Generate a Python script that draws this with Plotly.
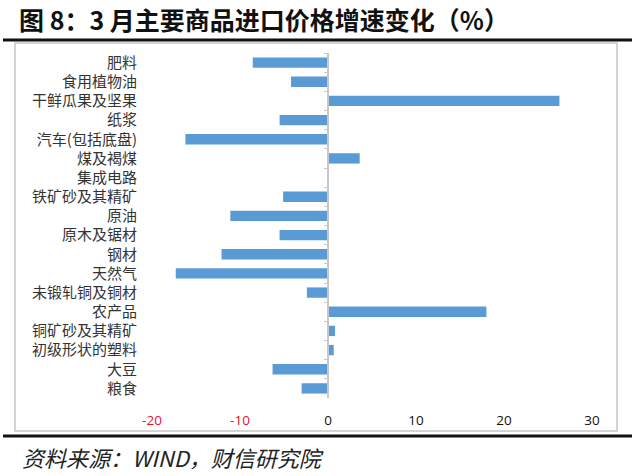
import plotly.graph_objects as go

categories = ["肥料", "食用植物油", "干鲜瓜果及坚果", "纸浆", "汽车(包括底盘)", "煤及褐煤",
              "集成电路", "铁矿砂及其精矿", "原油", "原木及锯材", "钢材", "天然气",
              "未锻轧铜及铜材", "农产品", "铜矿砂及其精矿", "初级形状的塑料", "大豆", "粮食"]
values = [-8.55, -4.2, 26.3, -5.5, -16.2, 3.6,
          0.0, -5.1, -11.1, -5.5, -12.1, -17.3,
          -2.4, 18.0, 0.8, 0.65, -6.3, -3.0]
tick_vals = [-20, -10, 0, 10, 20, 30]
tick_labels = ["-20", "-10", "0", "10", "20", "30"]

W, H = 640, 476
ML, MR, MT, MB = 152, 48, 53, 78
PW, PH = W - ML - MR, H - MT - MB


def px(x):
    return (x - ML) / PW


def py(y):
    return (H - MB - y) / PH


xmin, xmax = tick_vals[0], tick_vals[-1]
n = len(categories)

ticktext = [f"<span style='color:#e8112d'>{t}</span>" if v < 0 else t
            for v, t in zip(tick_vals, tick_labels)]

fig = go.Figure()
fig.add_trace(go.Bar(
    y=categories, x=values, orientation="h",
    marker=dict(color="#5b9bd5", line=dict(width=0)),
    hoverinfo="x+y", showlegend=False,
))
fig.add_trace(go.Scatter(
    y=categories, x=[0] * n, yaxis="y2", mode="markers",
    marker=dict(opacity=0), hoverinfo="skip", showlegend=False,
))

fig.update_layout(
    width=W, height=H,
    margin=dict(l=ML, r=MR, t=MT, b=MB, pad=0),
    paper_bgcolor="white", plot_bgcolor="white",
    bargap=0.46,
    xaxis=dict(range=[xmin, xmax], tickvals=tick_vals, ticktext=ticktext,
               showgrid=False, zeroline=False, showline=False, ticks="",
               ticklabelstandoff=12,
               tickfont=dict(family="Open Sans, sans-serif", size=13.5, color="#111")),
    yaxis=dict(type="category", categoryorder="array", categoryarray=categories,
               range=[n - 0.5, -0.5], showgrid=False, showline=False, ticks="",
               ticklabelstandoff=14,
               tickfont=dict(family="Noto Sans CJK SC", size=15, color="#333")),
    yaxis2=dict(type="category", categoryorder="array", categoryarray=categories,
                range=[n - 0.5, -0.5], overlaying="y", anchor="free",
                position=(0 - xmin) / (xmax - xmin), side="left",
                showgrid=False, showticklabels=False, showline=True,
                linecolor="#c8c8c8", linewidth=2, ticks="outside",
                tickson="boundaries", ticklen=3, tickcolor="#c8c8c8", tickwidth=1),
    shapes=[
        dict(type="rect", xref="paper", yref="paper", x0=px(15), x1=px(617),
             y0=py(431), y1=py(43), line=dict(color="#d4d4d4", width=2), layer="below"),
        dict(type="line", xref="paper", yref="paper", x0=px(3), x1=px(632),
             y0=py(40), y1=py(40), line=dict(color="#111", width=3)),
        dict(type="line", xref="paper", yref="paper", x0=px(3), x1=px(632),
             y0=py(436), y1=py(436), line=dict(color="#111", width=3)),
    ],
    annotations=[
        dict(text="<b>图 8：3 月主要商品进口价格增速变化（%）</b>", xref="paper", yref="paper",
             x=px(17), y=py(19), xanchor="left", yanchor="middle", showarrow=False,
             font=dict(family="Noto Sans CJK SC", size=25, color="#111")),
        dict(text="<i>资料来源：WIND，财信研究院</i>", xref="paper", yref="paper",
             x=px(20), y=py(457), xanchor="left", yanchor="middle", showarrow=False,
             font=dict(family="Noto Sans CJK SC", size=22, color="#222")),
    ],
)

fig.write_html("out.html")
